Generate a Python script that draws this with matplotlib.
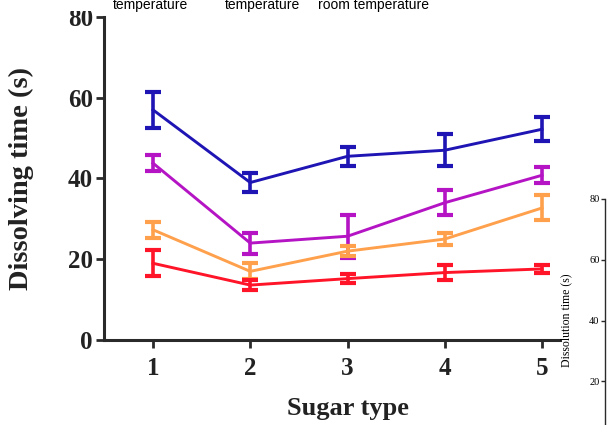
import numpy as np
import matplotlib
matplotlib.use('Agg')
import matplotlib.pyplot as plt
from matplotlib.patches import Rectangle

# %% Data
sugar_type = [1, 2, 3, 4, 5]

blue_mean    = [57.0, 39.0, 45.5, 47.0, 52.2]
blue_err     = [4.4, 2.4, 2.4, 4.0, 3.0]
magenta_mean = [43.8, 24.0, 25.7, 34.0, 40.8]
magenta_err  = [1.9, 2.6, 5.3, 3.1, 2.0]
orange_mean  = [27.3, 17.0, 22.0, 25.0, 32.7]
orange_err   = [2.0, 2.0, 1.3, 1.4, 3.1]
red_mean     = [19.0, 13.6, 15.2, 16.7, 17.6]
red_err      = [3.2, 1.3, 1.2, 1.8, 1.0]

series = [
    (blue_mean, blue_err, '#1f14b4'),
    (magenta_mean, magenta_err, '#b414c4'),
    (orange_mean, orange_err, '#ffa04c'),
    (red_mean, red_err, '#ff1428'),
]

legend_texts = ['temperature', 'temperature', 'room temperature']
legend_x = [113, 225, 318]

right_ticks = [20, 40, 60, 80]

W, H = 613, 425
fig = plt.figure(figsize=(W / 100, H / 100), dpi=100)

serif = ['Liberation Serif', 'DejaVu Serif']
axis_col = '#2a2a2a'

# %% Main panel
ax = fig.add_axes([104 / W, (H - 340) / H, 456 / W, 323 / H])
for mean, err, col in series:
    ax.errorbar(sugar_type, mean, yerr=err, color=col, lw=2.1,
                elinewidth=2.6, capsize=5.5, capthick=3.0, zorder=3)

ax.set_xlim(0.496, 5.185)
ax.set_ylim(0, 80)
ax.set_xticks(sugar_type)
ax.set_yticks([0, 20, 40, 60, 80])
for s in ['top', 'right']:
    ax.spines[s].set_visible(False)
for s in ['left', 'bottom']:
    ax.spines[s].set_linewidth(2.2)
    ax.spines[s].set_color(axis_col)
ax.tick_params(axis='y', width=2.0, length=6, color=axis_col, pad=2)
ax.tick_params(axis='x', width=2.0, length=6, color=axis_col, pad=6)
for lab in ax.get_xticklabels() + ax.get_yticklabels():
    lab.set_fontfamily(serif)
    lab.set_fontweight('bold')
    lab.set_fontsize(18)
    lab.set_color('#222222')
ax.set_xlabel('Sugar type', fontfamily=serif, fontweight='bold',
              fontsize=19, color='#222222')
ax.xaxis.set_label_coords(0.535, -0.175)
ax.set_ylabel('Dissolving time (s)', fontfamily=serif, fontweight='bold',
              fontsize=20.5, color='#222222')
ax.yaxis.set_label_coords(-0.154, 0.5)

# %% Right panel (cut off at the figure edge)
ax2 = fig.add_axes([605 / W, (H - 442) / H, 200 / W, 243 / H])
ax2.set_ylim(0, 80)
ax2.set_xlim(0, 1)
ax2.set_yticks(right_ticks)
ax2.set_xticks([])
for s in ['top', 'right', 'bottom']:
    ax2.spines[s].set_visible(False)
ax2.spines['left'].set_linewidth(1.0)
ax2.spines['left'].set_color(axis_col)
ax2.tick_params(width=1.0, length=3, color=axis_col, pad=1, labelsize=7.5)
for lab in ax2.get_yticklabels():
    lab.set_fontfamily(serif)
ax2.set_ylabel('Dissolution time (s)', fontfamily=serif, fontsize=8.5,
               labelpad=12)
ax2.patch.set_alpha(0)

# %% Legend remnant at the top (box cut by the crop)
fig.patches.append(Rectangle((0, 1 - 11 / H), 0.9, 11 / H,
                             transform=fig.transFigure, facecolor='white',
                             edgecolor='none', zorder=5))
for txt, x in zip(legend_texts, legend_x):
    fig.text(x / W, 1 - 5 / H, txt, fontfamily=['Liberation Sans', 'DejaVu Sans'],
             fontsize=10, ha='left', va='center', zorder=6)

fig.savefig('out.png', dpi=100)
